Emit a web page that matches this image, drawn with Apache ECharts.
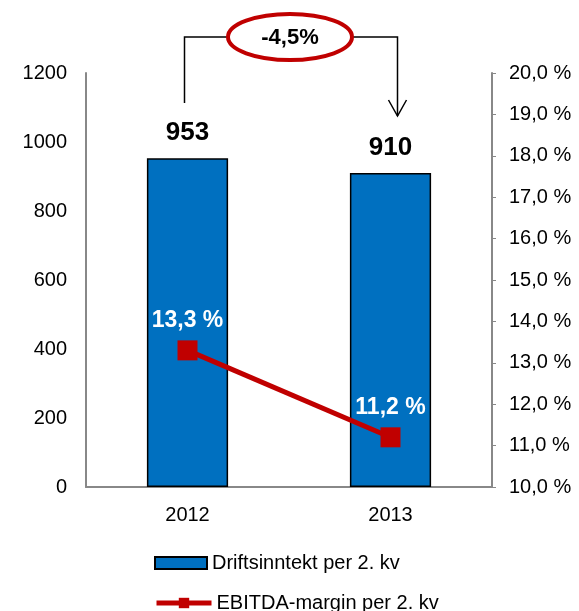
<!DOCTYPE html>
<html>
<head>
<meta charset="utf-8">
<script src="https://cdn.jsdelivr.net/npm/echarts@6/dist/echarts.min.js"></script>
<style>
  html, body { margin: 0; padding: 0; background: #fff; }
  #chart { width: 579px; height: 611px; }
</style>
</head>
<body>
<div id="chart"></div>
<script>
const years = ["2012", "2013"];
const revenue = [953, 910];
const ebitdaMargin = [13.3, 11.2];
const changeLabel = "-4,5%";

const font = "Liberation Sans, Arial, sans-serif";
const chart = echarts.init(document.getElementById("chart"));

const pct = v => v.toFixed(1).replace(".", ",") + " %";

chart.setOption({
  animation: false,
  grid: { left: 86, right: 87, top: 73, bottom: 124 },
  legend: [
    {
      left: 149,
      top: 548,
      itemWidth: 52,
      itemHeight: 12,
      textStyle: { fontFamily: font, fontSize: 20, color: "#000" },
      data: [{ name: "Driftsinntekt per 2. kv", icon: "rect" }]
    },
    {
      left: 149,
      top: 588,
      itemWidth: 55,
      itemHeight: 13,
      lineStyle: { width: 5 },
      textStyle: { fontFamily: font, fontSize: 20, color: "#000" },
      data: [{ name: "EBITDA-margin per 2. kv" }]
    }
  ],
  xAxis: {
    type: "category",
    data: years,
    axisLine: { lineStyle: { color: "#888", width: 2 } },
    axisTick: { show: false },
    axisLabel: { fontFamily: font, fontSize: 20, color: "#000", margin: 18 }
  },
  yAxis: [
    {
      type: "value",
      min: 0,
      max: 1200,
      interval: 200,
      splitLine: { show: false },
      axisLine: { show: true, lineStyle: { color: "#888", width: 2 } },
      axisTick: { show: false },
      axisLabel: {
        fontFamily: font, fontSize: 20, color: "#000", margin: 19,
        formatter: v => String(v)
      }
    },
    {
      type: "value",
      min: 10,
      max: 20,
      interval: 1,
      position: "right",
      splitLine: { show: false },
      axisLine: { show: true, lineStyle: { color: "#888", width: 2 } },
      axisTick: { show: true, length: 4, lineStyle: { color: "#888", width: 1 } },
      axisLabel: {
        fontFamily: font, fontSize: 20, color: "#000", margin: 17,
        formatter: pct
      }
    }
  ],
  series: [
    {
      name: "Driftsinntekt per 2. kv",
      type: "bar",
      data: revenue,
      barWidth: "40%",
      itemStyle: { color: "#0070C0", borderColor: "#000", borderWidth: 1.5 },
      label: {
        show: true,
        position: "top",
        distance: 12,
        fontFamily: font,
        fontSize: 26,
        fontWeight: "bold",
        color: "#000"
      }
    },
    {
      name: "EBITDA-margin per 2. kv",
      type: "line",
      yAxisIndex: 1,
      data: ebitdaMargin,
      symbol: "rect",
      symbolSize: 20,
      lineStyle: { color: "#C00000", width: 5 },
      itemStyle: { color: "#C00000" },
      label: {
        show: true,
        position: "top",
        distance: 8,
        fontFamily: font,
        fontSize: 23,
        fontWeight: "bold",
        color: "#fff",
        formatter: p => pct(p.value)
      }
    }
  ]
});

// change annotation above the bars, anchored to the category centres
const p1 = chart.convertToPixel({ xAxisIndex: 0, yAxisIndex: 0 }, [0, revenue[0]]);
const p2 = chart.convertToPixel({ xAxisIndex: 0, yAxisIndex: 0 }, [1, revenue[1]]);
const lx = p1[0] - 3, rx = p2[0] + 7;
const cy = 37, ex = (lx + rx) / 2 - 1, erx = 62, ery = 23;
const stroke = { stroke: "#000", lineWidth: 1.5, fill: null };

chart.setOption({
  graphic: [
    { type: "polyline", shape: { points: [[lx, 103], [lx, cy], [ex - erx, cy]] }, style: stroke },
    { type: "polyline", shape: { points: [[ex + erx, cy], [rx, cy], [rx, 116]] }, style: stroke },
    { type: "polyline", shape: { points: [[rx - 9, 100], [rx, 116], [rx + 9, 100]] }, style: stroke },
    {
      type: "ellipse",
      shape: { cx: ex, cy: cy, rx: erx, ry: ery },
      style: { fill: "#fff", stroke: "#C00000", lineWidth: 4 }
    },
    {
      type: "text",
      x: ex, y: cy + 1,
      style: {
        text: changeLabel, fontFamily: font, fontSize: 22, fontWeight: "bold",
        fill: "#000", align: "center", verticalAlign: "middle"
      }
    }
  ]
});
</script>
</body>
</html>
